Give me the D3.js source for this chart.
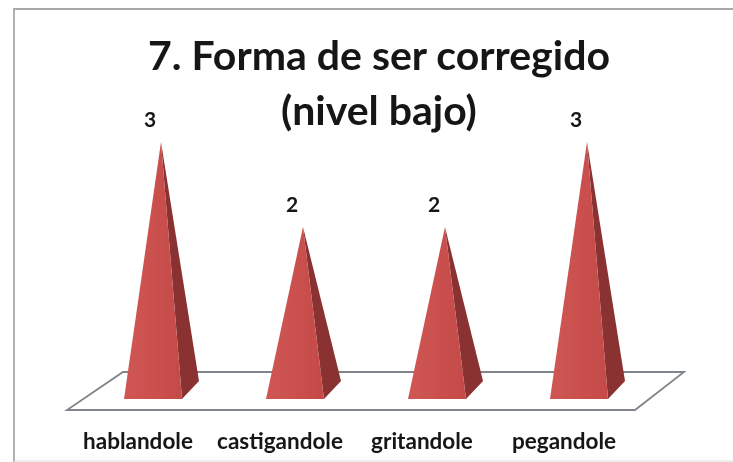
<!DOCTYPE html>
<html>
<head>
<meta charset="utf-8">
<script src="https://cdn.jsdelivr.net/npm/d3@7"></script>
<style>
html, body { margin: 0; padding: 0; background: #fff; }
svg { display: block; }
text { font-family: Lato, "Open Sans", sans-serif; font-weight: 700; fill: #151515; }
</style>
</head>
<body>
<div id="chart"></div>
<script>
var width = 733;
var height = 462;

var categories = ["hablandole", "castigandole", "gritandole", "pegandole"];
var values = [3, 2, 2, 3];
var titleLines = ["7. Forma de ser corregido", "(nivel bajo)"];

var svg = d3.select("#chart").append("svg")
  .attr("width", width)
  .attr("height", height);

// soft look of the source image
var defs = svg.append("defs");
defs.append("filter").attr("id", "soft")
  .append("feGaussianBlur").attr("stdDeviation", 0.7);

var front = defs.append("linearGradient").attr("id", "frontFill")
  .attr("x1", 0).attr("x2", 1).attr("y1", 0).attr("y2", 0);
front.append("stop").attr("offset", "0%").attr("stop-color", "#d05654");
front.append("stop").attr("offset", "100%").attr("stop-color", "#c44b49");

var x = d3.scaleBand().domain(categories).range([82, 650]);
var y = d3.scaleLinear().domain([0, 3]).range([397, 142]);

var g = svg.append("g").attr("filter", "url(#soft)");

// chart frame, top and left edges are the visible ones
g.append("path")
  .attr("d", d3.line()([[14, 462], [14, 9], [733, 9]]))
  .attr("fill", "none")
  .attr("stroke", "#a8a8a8")
  .attr("stroke-width", 1.8);

g.append("line")
  .attr("x1", 14).attr("x2", 733)
  .attr("y1", 461).attr("y2", 461)
  .attr("stroke", "#dcdcdc")
  .attr("stroke-width", 1);

// floor
g.append("path")
  .attr("d", d3.line().curve(d3.curveLinearClosed)([[123, 372], [684, 372], [635, 410], [67, 410]]))
  .attr("fill", "#fff")
  .attr("stroke", "#7f858a")
  .attr("stroke-width", 1.8);

// pyramids
var bars = g.selectAll(".bar").data(values).enter().append("g").attr("class", "bar");

var base = 399, halfW = 29, depthX = 17, depthY = 18, apexDx = 8;

bars.append("path")
  .attr("fill", "#8a3130")
  .attr("d", function(d, i) {
    var c = x(categories[i]) + x.bandwidth() / 2;
    return d3.line()([[c + apexDx, y(d)], [c + halfW, base], [c + halfW + depthX, base - depthY]]) + "Z";
  });

bars.append("path")
  .attr("fill", "url(#frontFill)")
  .attr("d", function(d, i) {
    var c = x(categories[i]) + x.bandwidth() / 2;
    return d3.line()([[c + apexDx, y(d)], [c - halfW, base], [c + halfW, base]]) + "Z";
  });

// value labels
g.selectAll(".val").data(values).enter().append("text")
  .attr("class", "val")
  .attr("text-anchor", "middle")
  .attr("font-size", 21)
  .attr("x", function(d, i) { return x(categories[i]) + x.bandwidth() / 2 - 3; })
  .attr("y", function(d) { return y(d) - 15; })
  .text(function(d) { return d; });

// category labels
g.selectAll(".cat").data(categories).enter().append("text")
  .attr("class", "cat")
  .attr("text-anchor", "middle")
  .attr("font-size", 22.5)
  .attr("x", function(d) { return x(d) + x.bandwidth() / 2 - 15; })
  .attr("y", 449)
  .text(function(d) { return d; });

// title
g.selectAll(".title").data(titleLines).enter().append("text")
  .attr("class", "title")
  .attr("text-anchor", "middle")
  .attr("font-size", 41)
  .attr("x", 379)
  .attr("y", function(d, i) { return 70 + i * 55; })
  .text(function(d) { return d; });
</script>
</body>
</html>
